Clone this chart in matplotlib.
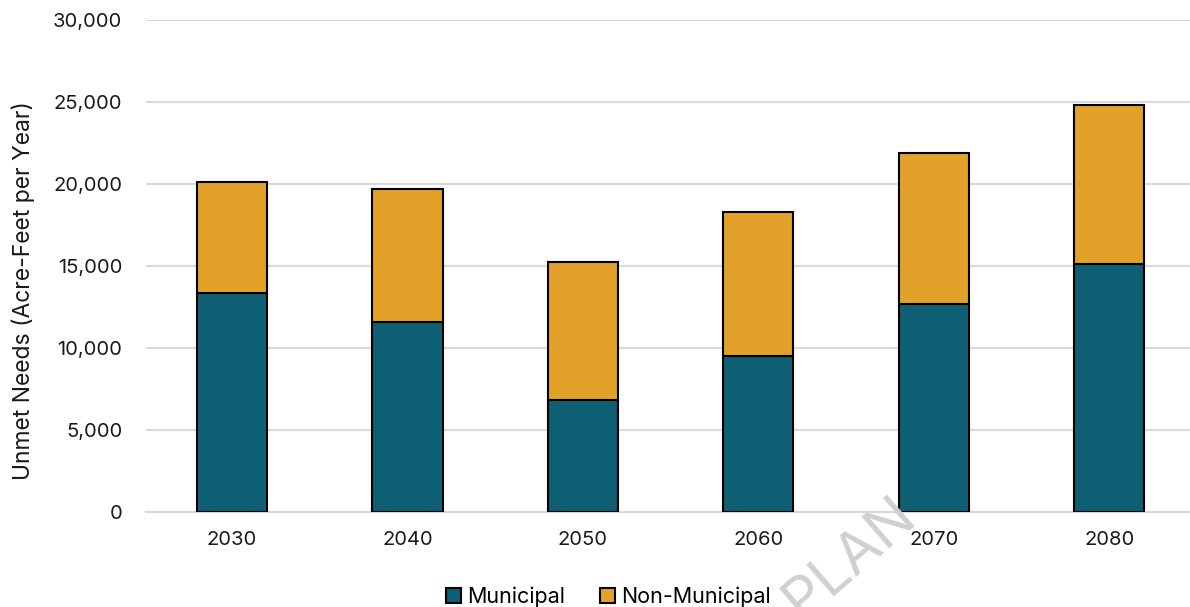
import matplotlib
matplotlib.use("Agg")
import matplotlib.pyplot as plt
from matplotlib.ticker import FuncFormatter

# Unmet needs by decade (acre-feet per year)
years = ["2030", "2040", "2050", "2060", "2070", "2080"]
municipal = [13350, 11600, 6830, 9500, 12700, 15120]
total = [20120, 19700, 15250, 18300, 21900, 24800]
non_municipal = [t - m for t, m in zip(total, municipal)]

series_names = ["Municipal", "Non-Municipal"]
colors = ["#0e5f73", "#e2a128"]

plt.rcParams["font.family"] = ["Inter", "DejaVu Sans"]

fig = plt.figure(figsize=(11.90, 6.07), dpi=100)
ax = fig.add_axes([0.1227, 0.1565, 0.8773, 0.8105])

x = list(range(len(years)))
ax.bar(x, municipal, width=0.4, color=colors[0], edgecolor="black",
       linewidth=1.5, label=series_names[0], zorder=3)
ax.bar(x, non_municipal, width=0.4, bottom=municipal, color=colors[1],
       edgecolor="black", linewidth=1.5, label=series_names[1], zorder=3)

ax.set_xlim(-0.49, 5.46)
ax.set_ylim(0, 30000)
ax.set_yticks(range(0, 30001, 5000))
ax.yaxis.set_major_formatter(FuncFormatter(lambda v, p: f"{int(v):,}"))
ax.set_xticks(x)
ax.set_xticklabels(years)
ax.tick_params(axis="both", length=0, labelsize=14.5, colors="#1a1a1a")
ax.tick_params(axis="y", pad=17)
ax.tick_params(axis="x", pad=14)
ax.grid(axis="y", color="#d9d9d9", linewidth=1.5, zorder=0)
for s in ["top", "right", "left"]:
    ax.spines[s].set_visible(False)
ax.spines["bottom"].set_color("#d9d9d9")
ax.spines["bottom"].set_linewidth(1.5)

ax.set_ylabel("Unmet Needs (Acre-Feet per Year)", fontsize=16.5,
              color="#1a1a1a")
ax.yaxis.set_label_coords(-0.106, 0.45)

ax.legend(loc="center", bbox_to_anchor=(0.443, -0.172), ncol=2, frameon=False,
          fontsize=15.5, handlelength=0.7, handleheight=0.7,
          handletextpad=0.3, columnspacing=1.6)

# Faint diagonal watermark
fig.text(0.674, -0.022, "PLAN", rotation=41, fontsize=42, color="#d0d0d0",
         ha="left", va="baseline", rotation_mode="anchor", zorder=10,
         family=["Inter", "DejaVu Sans"])

fig.savefig("out.png", dpi=100)
